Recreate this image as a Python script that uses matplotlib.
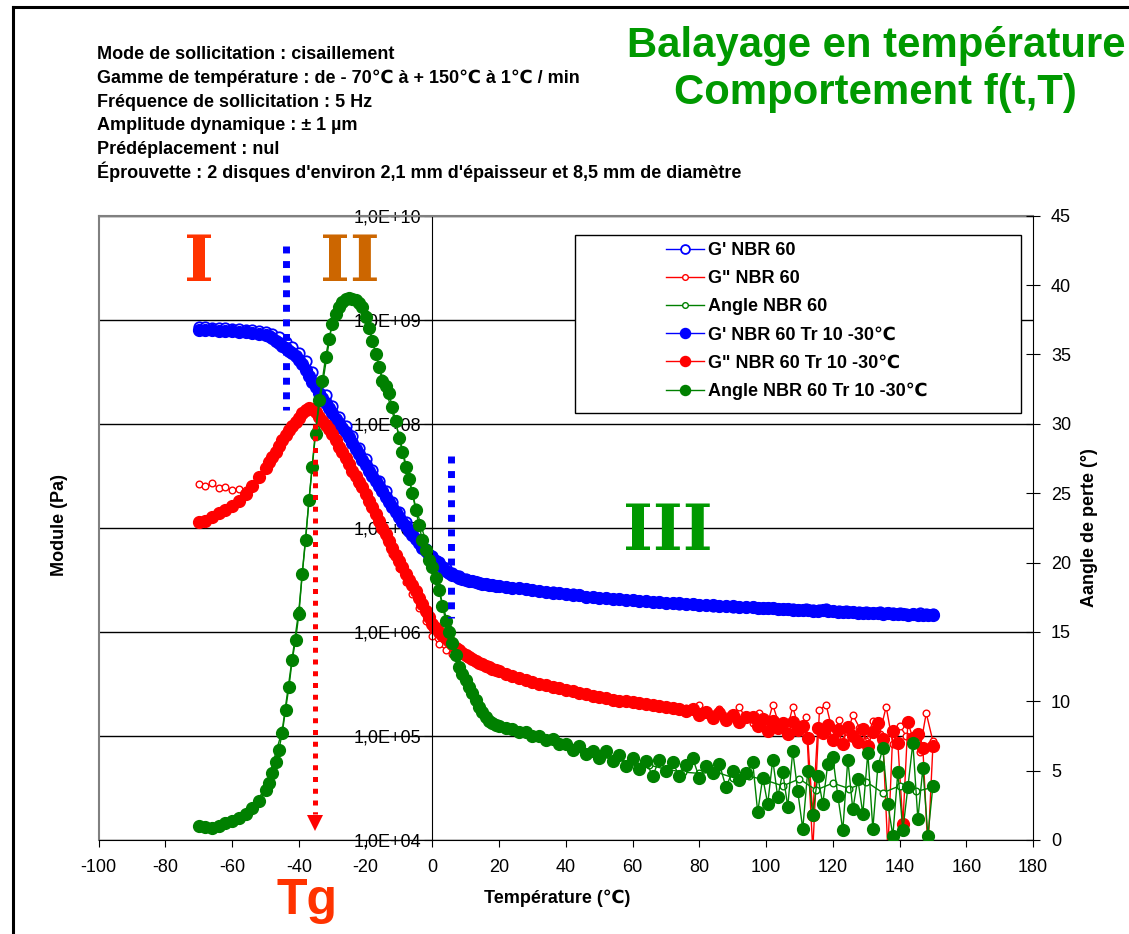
import numpy as np
import matplotlib
matplotlib.use("Agg")
import matplotlib.pyplot as plt
from matplotlib.lines import Line2D
from matplotlib.patches import Rectangle
from matplotlib.ticker import FuncFormatter, NullLocator, MultipleLocator

plt.rcParams['font.family'] = ['Liberation Sans', 'DejaVu Sans']
plt.rcParams['axes.unicode_minus'] = False

# Temperature grid of the "Tr 10 -30" run (denser where the curves move fast)
temp_tr = np.concatenate([np.arange(-70, -51, 2), np.arange(-50, 21, 1),
                          np.arange(22, 95, 2), np.arange(96, 150.1, 1.5)])
# grid of the plain NBR 60 run
temp_nbr = np.arange(-70, 151, 2)
temp_nbr_angle = np.arange(-70, 151, 5)

# log10 of G' (Pa), Tr run
gp_tr_log = [8.90, 8.90, 8.90, 8.89, 8.89, 8.89, 8.88, 8.88, 8.87, 8.86,
             8.85, 8.84, 8.82, 8.80, 8.78, 8.75, 8.73, 8.70, 8.68, 8.65,
             8.61, 8.57, 8.52, 8.46, 8.40, 8.35, 8.30, 8.25, 8.20, 8.15,
             8.10, 8.05, 8.01, 7.96, 7.92, 7.87, 7.82, 7.76, 7.71, 7.65,
             7.60, 7.55, 7.50, 7.45, 7.40, 7.35, 7.30, 7.25, 7.20, 7.15,
             7.10, 7.06, 7.02, 6.97, 6.93, 6.89, 6.85, 6.81, 6.78, 6.74,
             6.71, 6.68, 6.65, 6.62, 6.59, 6.57, 6.55, 6.54, 6.52, 6.51,
             6.50, 6.49, 6.485, 6.48, 6.47, 6.465, 6.46, 6.455, 6.45, 6.445,
             6.44,
             6.43, 6.425, 6.42, 6.41, 6.40, 6.39, 6.385, 6.375, 6.37, 6.36,
             6.355, 6.35, 6.34, 6.335, 6.33, 6.325, 6.32, 6.315, 6.31, 6.31,
             6.30, 6.295, 6.29, 6.285, 6.28, 6.28, 6.275, 6.27, 6.265, 6.26,
             6.26, 6.255, 6.25, 6.25, 6.245, 6.24, 6.24,
             6.235, 6.23, 6.23, 6.23, 6.225, 6.22, 6.22, 6.22, 6.215, 6.21,
             6.21, 6.21, 6.205, 6.20, 6.21, 6.20, 6.20, 6.195, 6.19, 6.195,
             6.19, 6.185, 6.18, 6.185, 6.18, 6.18, 6.175, 6.18, 6.17, 6.175,
             6.17, 6.165, 6.17, 6.165, 6.16, 6.165, 6.16]

# log10 of G'' (Pa), Tr run
gpp_tr_log = [7.06, 7.07, 7.10, 7.14, 7.17, 7.21, 7.26, 7.33, 7.40, 7.49,
              7.58, 7.63, 7.68, 7.73, 7.79, 7.84, 7.89, 7.94, 7.98, 8.02,
              8.06, 8.10, 8.13, 8.15, 8.14, 8.11, 8.07, 8.03, 7.99, 7.95,
              7.90, 7.84, 7.78, 7.73, 7.67, 7.61, 7.55, 7.50, 7.44, 7.39,
              7.33, 7.26, 7.20, 7.13, 7.07, 7.00, 6.94, 6.87, 6.81, 6.74,
              6.68, 6.62, 6.56, 6.50, 6.45, 6.39, 6.33, 6.27, 6.20, 6.14,
              6.08, 6.04, 6.00, 5.97, 5.94, 5.91, 5.88, 5.85, 5.83, 5.80,
              5.78, 5.76, 5.74, 5.72, 5.70, 5.69, 5.67, 5.66, 5.64, 5.63,
              5.62,
              5.60, 5.58, 5.56, 5.54, 5.52, 5.50, 5.49, 5.47, 5.46, 5.44,
              5.43, 5.41, 5.40, 5.38, 5.37, 5.36, 5.35, 5.34, 5.34, 5.33,
              5.32, 5.31, 5.30, 5.29, 5.28, 5.27, 5.26, 5.24, 5.26, 5.20,
              5.23, 5.17, 5.22, 5.15, 5.20, 5.13, 5.18,
              5.18, 5.10, 5.16, 5.05, 5.14, 5.08, 5.12, 5.02, 5.13, 5.06,
              5.10, 4.98, 4.24, 5.08, 5.03, 5.11, 4.96, 5.06, 4.92, 5.09,
              5.00, 4.94, 5.07, 4.90, 5.04, 5.12, 4.97, 3.90, 5.05, 4.93,
              4.15, 5.13, 4.98, 5.02, 4.88, 3.90, 4.90]

# loss angle (deg), Tr run
angle_tr = [1.0, 0.95, 0.9, 1.0, 1.2, 1.4, 1.6, 1.9, 2.3, 2.8,
            3.6, 4.1, 4.8, 5.6, 6.5, 7.7, 9.4, 11.0, 13.0, 14.4,
            16.3, 19.2, 21.6, 24.5, 26.9, 29.3, 31.7, 33.1, 34.8, 36.1,
            37.2, 37.9, 38.4, 38.8, 39.0, 39.1, 39.0, 38.9, 38.7, 38.4,
            37.7, 36.9, 36.0, 35.0, 34.1, 33.1, 32.7, 32.2, 31.2, 30.2,
            29.0, 28.0, 26.9, 26.0, 25.0, 23.8, 22.7, 21.6, 20.9, 20.2,
            19.7, 18.9, 18.0, 16.9, 15.8, 15.0, 14.2, 13.3, 12.5, 12.0,
            11.5, 11.0, 10.6, 10.1, 9.6, 9.2, 8.9, 8.6, 8.4, 8.3,
            8.2,
            8.1, 8.0, 7.8, 7.8, 7.5, 7.5, 7.2, 7.3, 6.9, 6.9,
            6.5, 6.8, 6.2, 6.4, 5.9, 6.4, 5.7, 6.1, 5.3, 5.9,
            5.1, 5.7, 4.6, 5.8, 5.0, 5.6, 4.6, 5.4, 5.9, 4.5,
            5.3, 4.8, 5.5, 3.8, 5.0, 4.3, 4.8,
            5.6, 2.0, 4.5, 2.6, 5.8, 3.1, 4.9, 2.4, 6.4, 3.5,
            0.8, 5.0, 1.8, 4.6, 2.6, 5.5, 6.0, 3.2, 0.7, 5.8,
            2.2, 4.4, 1.9, 6.3, 0.8, 5.3, 6.6, 2.6, 0.3, 4.9,
            0.7, 3.8, 7.0, 1.5, 5.2, 0.3, 3.9]

# log10 of G' (Pa), NBR 60
gp_nbr_log = [8.93, 8.93, 8.92, 8.92, 8.92, 8.91, 8.91, 8.90, 8.90, 8.89,
              8.88, 8.86, 8.83, 8.79, 8.74, 8.68, 8.60, 8.50, 8.39, 8.28,
              8.17, 8.07, 7.98, 7.88, 7.77, 7.66, 7.56, 7.45, 7.35, 7.25,
              7.15, 7.06, 6.97, 6.88, 6.80, 6.73, 6.67, 6.61, 6.57, 6.54,
              6.51, 6.49, 6.47, 6.46, 6.45, 6.44, 6.43, 6.42, 6.42, 6.41,
              6.40, 6.39, 6.38, 6.38, 6.37, 6.36, 6.36, 6.35, 6.34, 6.34,
              6.33, 6.33, 6.32, 6.32, 6.31, 6.31, 6.30, 6.30, 6.29, 6.29,
              6.28, 6.28, 6.27, 6.27, 6.27, 6.26, 6.26, 6.25, 6.25, 6.25,
              6.24, 6.24, 6.24, 6.24, 6.23, 6.23, 6.23, 6.22, 6.22, 6.22,
              6.21, 6.22, 6.21, 6.21, 6.22, 6.20, 6.20, 6.20, 6.19, 6.19,
              6.19, 6.18, 6.19, 6.18, 6.18, 6.18, 6.17, 6.17, 6.18, 6.17,
              6.17]

# log10 of G'' (Pa), NBR 60
gpp_nbr_log = [7.42, 7.40, 7.43, 7.38, 7.39, 7.36, 7.37, 7.36, 7.40, 7.47,
               7.57, 7.68, 7.79, 7.89, 7.98, 8.06, 8.13, 8.14, 8.08, 8.00,
               7.90, 7.77, 7.64, 7.52, 7.40, 7.30, 7.17, 7.03, 6.89, 6.75,
               6.61, 6.48, 6.36, 6.23, 6.10, 5.96, 5.88, 5.83, 5.79, 5.77,
               5.75, 5.73, 5.71, 5.68, 5.65, 5.62, 5.60, 5.58, 5.56, 5.54,
               5.52, 5.50, 5.49, 5.48, 5.46, 5.44, 5.43, 5.42, 5.40, 5.39,
               5.37, 5.38, 5.35, 5.34, 5.35, 5.33, 5.32, 5.33, 5.30, 5.31,
               5.28, 5.29, 5.26, 5.27, 5.25, 5.30, 5.22, 5.21, 5.26, 5.19,
               5.17, 5.28, 5.16, 5.12, 5.22, 5.06, 5.30, 5.10, 5.02, 5.28,
               5.05, 5.18, 3.90, 5.25, 5.30, 5.03, 5.15, 4.98, 5.20, 5.08,
               4.95, 5.14, 5.02, 5.28, 4.92, 5.10, 5.00, 4.93, 4.85, 5.22,
               4.95]

# loss angle (deg), NBR 60
angle_nbr = [1.1, 0.9, 1.4, 2.1, 3.7, 7.9, 16.6, 29.6, 37.4, 39.2,
             37.9, 33.3, 29.2, 24.0, 19.9, 15.2, 11.6, 9.3, 8.2, 7.8,
             7.5, 7.2, 6.8, 6.4, 6.0, 5.8, 5.6, 5.4, 5.1, 4.9,
             4.8, 4.9, 4.5, 4.6, 4.3, 3.9, 4.4, 3.6, 4.1, 3.7,
             4.2, 3.4, 3.9, 3.5, 3.8]

info_lines = ["Mode de sollicitation : cisaillement",
              "Gamme de température : de - 70℃ à + 150℃ à 1℃ / min",
              "Fréquence de sollicitation : 5 Hz",
              "Amplitude dynamique : ± 1 µm",
              "Prédéplacement : nul",
              "Éprouvette : 2 disques d'environ 2,1 mm d'épaisseur et 8,5 mm de diamètre"]

BLUE, RED, GREEN = '#0000FF', '#FF0000', '#008000'
W, H = 1129, 934

fig = plt.figure(figsize=(W / 100, H / 100), dpi=100)
ax = fig.add_axes([98.7 / W, 1 - 840 / H, (1033 - 98.7) / W, (840 - 215.7) / H])
ax2 = ax.twinx()

# modulus series (open first, the Tr run drawn over it)
l1, = ax.plot(temp_nbr, 10 ** np.array(gp_nbr_log), '-o', color=BLUE, lw=1,
              ms=7.5, mfc='white', mec=BLUE, mew=1.3, label="G' NBR 60")
l2, = ax.plot(temp_nbr, 10 ** np.array(gpp_nbr_log), '-o', color=RED, lw=1,
              ms=4.8, mfc='white', mec=RED, mew=1, label='G" NBR 60')
l4, = ax.plot(temp_tr, 10 ** np.array(gp_tr_log), '-o', color=BLUE, lw=1,
              ms=8.5, mew=1, label="G' NBR 60 Tr 10 -30℃")
l5, = ax.plot(temp_tr, 10 ** np.array(gpp_tr_log), '-o', color=RED, lw=1,
              ms=8.5, mew=1, label='G" NBR 60 Tr 10 -30℃')

l3, = ax2.plot(temp_nbr_angle, angle_nbr, '-o', color=GREEN, lw=1,
               ms=4.8, mfc='white', mec=GREEN, mew=1, label='Angle NBR 60')
l6, = ax2.plot(temp_tr, angle_tr, '-o', color=GREEN, lw=1,
               ms=8.5, mew=1, label='Angle NBR 60 Tr 10 -30℃')

# axes setup
ax.set_xlim(-100, 180)
ax.set_yscale('log')
ax.set_ylim(1e4, 1e10)
ax2.set_ylim(0, 45)
ax.xaxis.set_major_locator(MultipleLocator(20))
ax.yaxis.set_minor_locator(NullLocator())
ax.yaxis.set_major_formatter(FuncFormatter(lambda v, p: f"{v:.1E}".replace('.', ',')))
ax2.yaxis.set_major_locator(MultipleLocator(5))

ax.yaxis.grid(True, which='major', color='black', lw=1)
ax.set_axisbelow(True)

ax.spines['left'].set_position(('data', 0))
ax.spines['right'].set_visible(False)
ax.spines['top'].set_color('#808080')
ax.spines['top'].set_linewidth(1.5)
for s in ['left', 'top', 'bottom']:
    ax2.spines[s].set_visible(False)
ax.plot([0, 0], [0, 1], transform=ax.transAxes, color='#808080', lw=1.5, clip_on=False)

ax.tick_params(axis='x', direction='out', length=5, pad=9, labelsize=13)
ax.tick_params(axis='y', direction='out', length=6, pad=2, labelsize=13)
ax2.tick_params(axis='y', direction='inout', length=10, pad=8, labelsize=13)

# phase annotations
ax2.plot([-44, -44], [42.8, 31.0], color=BLUE, lw=5, linestyle=(0, (1, 1.1)), zorder=6)
ax2.plot([5.7, 5.7], [27.7, 16.0], color=BLUE, lw=5, linestyle=(0, (1, 1.1)), zorder=6)
ax2.plot([-35.2, -35.2], [30.0, 1.9], color=RED, lw=3.6, linestyle=(0, (1, 1.35)), zorder=6)
ax2.plot([-35.2], [1.2], marker='v', ms=12, color=RED, mew=0, zorder=6, clip_on=False)

roman = dict(family='DejaVu Serif', fontweight='bold', fontsize=46, ha='center', va='baseline')
ax2.text(-70, 40.3, 'I', color='#FF3300', **roman)
ax2.text(-24.7, 40.3, 'II', color='#CC6600', **roman)
ax2.text(70.6, 20.9, 'III', color='#009900', **roman)
fig.text(307 / W, 1 - 914 / H, 'Tg', color='#FF3300', fontsize=36, fontweight='bold',
         ha='center', va='baseline')

# legend in a white box
ax2.add_patch(Rectangle((0.5098, 0.684), 0.4772, 0.285, transform=ax2.transAxes,
                        facecolor='white', edgecolor='black', lw=1, zorder=9))
leg = ax2.legend(handles=[l1, l2, l3, l4, l5, l6], loc='upper left',
                 bbox_to_anchor=(0.607, 0.958), frameon=False, borderpad=0,
                 borderaxespad=0, handlelength=2.1, handletextpad=0.25,
                 labelspacing=0.62, numpoints=1, markerscale=0.85,
                 prop={'weight': 'bold', 'size': 13})
leg.set_zorder(10)

# axis titles
fig.text(59 / W, 1 - 525 / H, 'Module (Pa)', rotation=90, fontsize=13,
         fontweight='bold', ha='center', va='center')
fig.text(1090 / W, 1 - 528 / H, 'Aangle de perte (°)', rotation=90, fontsize=13,
         fontweight='bold', ha='center', va='center')
fig.text(557 / W, 1 - 898 / H, 'Température (℃)', fontsize=13,
         fontweight='bold', ha='center', va='center')

# header texts
for i, line in enumerate(info_lines):
    fig.text(97 / W, 1 - (59 + 23.8 * i) / H, line, fontsize=13, fontweight='bold',
             ha='left', va='baseline')
fig.text(876 / W, 1 - 57 / H, 'Balayage en température', fontsize=30.2,
         fontweight='bold', color='#009900', ha='center', va='baseline')
fig.text(875 / W, 1 - 104 / H, 'Comportement f(t,T)', fontsize=30.2,
         fontweight='bold', color='#009900', ha='center', va='baseline')

# outer frame (left and top edges)
fig.add_artist(Line2D([13 / W, 13 / W], [0, 1 - 7 / H], color='black', lw=2.2))
fig.add_artist(Line2D([13 / W, 1], [1 - 7 / H, 1 - 7 / H], color='black', lw=2.2))

fig.savefig('out.png', dpi=100)
